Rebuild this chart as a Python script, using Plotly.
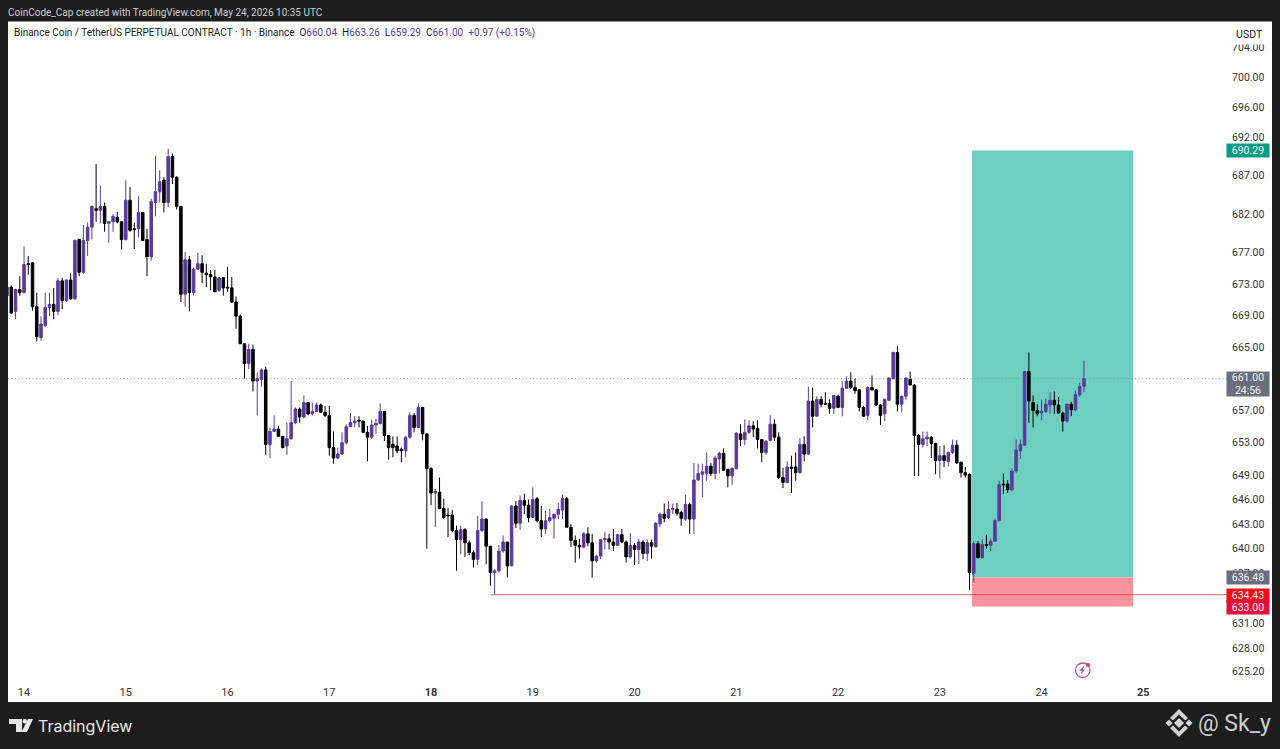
import math
import pandas as pd
import plotly.graph_objects as go

W, H = 1280, 749
L, R, T, B = 8, 1227, 22, 681

opens = [
671.5,672.6,669.5,672.3,671.9,675.6,675.7,670.1,666.2,667.7,
670.0,670.4,669.5,673.4,670.9,673.5,671.1,678.7,674.5,678.6,
680.3,682.7,682.5,683.0,680.8,681.0,681.6,681.0,678.7,683.8,
680.1,680.1,682.2,678.7,676.5,683.5,684.9,686.4,683.5,689.5,
686.8,683.0,671.7,676.1,671.9,674.9,675.6,674.4,674.2,673.9,
672.2,673.8,672.6,672.5,670.7,668.9,665.4,662.9,664.7,660.7,
660.9,662.1,652.8,654.4,654.7,653.8,652.6,653.5,655.5,657.2,
656.2,658.0,656.6,656.9,657.7,656.8,656.4,652.4,651.1,651.6,
653.0,655.0,655.5,655.8,655.7,654.3,653.7,655.2,655.4,656.9,
653.9,652.8,652.6,652.2,652.0,653.7,656.4,654.9,657.4,654.1,
649.8,646.8,646.9,644.9,644.1,644.1,642.2,641.1,642.3,640.7,
639.5,638.7,642.2,643.6,640.3,637.1,637.3,639.7,640.8,637.9,
645.2,643.1,645.9,645.3,643.8,646.1,643.4,642.4,643.4,643.7,
644.2,644.7,646.1,642.6,641.0,640.4,640.2,641.8,640.7,638.5,
639.1,641.1,641.2,640.8,640.4,641.7,640.8,639.0,640.4,639.9,
640.8,639.4,640.7,640.2,643.0,644.2,643.8,644.8,644.8,644.4,
643.6,645.4,643.6,648.4,649.1,649.2,650.1,649.2,651.0,651.7,
649.7,648.9,649.8,654.1,653.4,654.3,655.1,654.8,653.4,651.8,
653.3,655.3,653.7,648.7,648.1,650.0,650.0,649.3,652.8,651.6,
658.2,656.3,658.4,657.9,657.9,657.3,658.8,657.4,659.8,660.7,
659.9,659.6,657.4,656.4,659.9,659.6,657.7,656.6,658.3,661.0,
664.3,657.8,658.8,660.9,660.2,653.9,652.8,653.5,653.7,652.9,
650.8,651.4,650.7,651.8,652.7,650.6,649.3,649.1,637.0,640.6,
638.9,640.5,640.4,640.9,643.4,647.9,647.9,647.2,649.5,652.0,
652.7,661.9,658.0,657.0,656.7,656.9,657.7,658.3,657.7,656.7,
655.7,657.8,657.1,659.0,660.04]
highs = [
672.8,672.8,672.4,674.0,677.8,676.6,675.8,671.9,668.9,671.9,
671.9,672.5,673.8,673.8,673.6,674.4,678.7,678.8,680.6,680.9,
683.1,688.5,685.7,683.5,681.0,682.0,682.3,681.0,686.4,685.5,
680.9,684.3,682.2,680.1,684.0,689.6,687.7,686.8,690.5,689.9,
686.9,683.0,677.1,676.6,675.1,677.0,676.7,675.6,674.8,674.8,
673.9,673.9,675.2,673.9,671.4,669.1,665.4,665.4,665.3,661.8,
662.3,662.5,654.9,656.4,655.1,653.8,655.5,660.7,657.4,657.4,
658.9,658.1,658.0,658.0,657.9,657.6,657.6,654.4,652.4,654.3,
655.3,656.7,656.3,656.3,655.7,655.1,655.9,656.0,657.9,656.9,
653.9,653.8,653.8,652.4,653.8,656.8,656.7,657.9,657.4,654.2,
650.0,647.3,648.7,646.1,645.0,644.7,642.8,642.8,642.5,641.0,
639.8,644.0,645.8,643.7,640.3,637.5,640.4,641.6,640.8,645.3,
645.8,646.5,646.7,646.0,647.5,646.3,645.2,644.6,644.8,644.2,
645.6,646.6,646.3,643.0,641.6,641.2,642.0,642.6,641.8,639.2,
641.2,642.0,641.8,642.4,641.8,642.4,641.0,641.9,640.7,641.2,
641.0,641.1,641.1,643.2,644.4,645.5,645.8,645.5,645.6,644.6,
646.6,645.6,650.5,650.4,650.4,651.8,650.5,651.4,651.9,652.3,
649.8,650.0,654.3,655.3,655.9,655.8,655.7,655.8,653.5,653.3,
656.4,655.9,654.3,649.9,650.7,651.4,651.8,653.6,653.8,660.0,
659.9,658.8,658.8,659.3,658.4,659.0,659.0,660.7,661.3,661.8,
661.0,659.7,657.6,660.0,661.4,659.7,657.8,658.5,661.1,664.4,
665.1,658.8,661.1,661.9,660.3,654.1,654.4,654.4,653.8,653.0,
652.6,652.7,651.9,653.4,653.3,650.6,650.0,649.2,640.9,640.9,
641.1,641.7,641.2,643.7,648.3,649.2,648.4,649.8,653.4,653.4,
661.9,664.3,658.9,657.8,658.4,658.5,659.3,659.4,658.7,656.8,
657.9,658.1,659.5,660.5,663.26]
lows = [
671.4,669.2,668.5,671.5,671.8,674.2,669.6,665.7,665.8,667.5,
668.9,668.5,669.0,669.8,670.7,671.0,671.0,674.0,674.3,676.6,
678.7,681.0,680.8,679.7,678.3,679.7,680.8,677.4,678.6,679.7,
677.5,679.0,678.6,674.0,676.0,681.7,683.5,682.2,682.9,685.9,
682.6,670.7,670.1,669.5,671.5,674.8,673.1,672.6,672.2,672.0,
672.0,671.5,672.0,670.6,667.3,665.4,661.0,662.2,659.4,656.4,
660.0,651.5,651.1,654.4,653.8,652.3,651.5,653.4,655.3,655.5,
656.0,656.4,656.4,656.8,656.7,656.2,651.4,650.4,651.0,651.5,
652.8,655.0,654.9,654.9,654.2,650.7,653.5,654.1,655.3,653.2,
650.9,651.2,651.7,650.6,651.2,653.5,654.3,654.8,653.3,640.0,
645.3,642.6,644.8,643.6,641.4,642.0,637.3,639.3,639.0,639.2,
637.7,638.0,642.0,638.1,635.5,634.5,637.1,639.5,636.5,637.9,
642.5,642.3,644.2,643.2,643.8,643.2,641.4,641.8,643.2,641.2,
643.6,643.6,642.6,640.2,638.3,638.8,640.0,640.3,636.5,638.3,
638.7,639.9,639.9,639.7,640.3,640.7,638.3,638.8,638.0,638.1,
638.7,638.5,638.8,640.2,642.6,643.2,643.6,644.2,644.0,642.8,
643.4,641.8,641.8,648.3,646.3,648.3,648.9,648.5,649.2,649.6,
647.5,647.8,649.7,652.6,652.7,654.1,653.7,652.3,650.6,651.5,
653.2,653.2,648.5,647.4,648.0,646.8,648.3,649.2,650.7,651.5,
654.9,656.3,657.4,657.7,656.6,656.6,657.3,656.3,659.7,659.7,
659.1,656.9,656.2,655.8,659.5,657.6,655.2,655.7,658.2,660.9,
656.9,656.8,658.3,660.2,648.9,648.9,652.4,652.6,651.1,649.1,
648.6,650.0,650.1,651.6,650.4,648.7,648.7,635.0,635.9,638.8,
638.8,640.0,639.7,640.8,643.4,646.7,646.8,647.0,649.3,651.0,
652.6,655.5,654.9,656.3,655.8,656.7,656.6,656.6,656.6,654.4,
655.5,656.3,656.9,658.7,659.29]
closes = [
672.6,669.3,672.3,671.9,675.5,675.5,670.1,666.3,667.9,670.0,
670.4,669.5,673.4,670.9,673.5,671.1,678.6,674.5,678.6,680.3,
683.0,682.5,683.0,680.8,681.0,681.7,681.0,678.7,683.8,679.9,
680.0,682.2,678.6,676.5,683.6,684.9,686.2,683.5,689.5,686.8,
683.0,671.7,676.1,671.9,674.9,675.6,674.5,674.2,673.9,672.0,
673.8,672.5,672.5,670.7,668.9,665.4,662.9,664.7,660.7,661.0,
662.1,652.8,654.4,654.7,653.8,652.4,653.5,655.5,657.2,656.2,
658.0,656.6,656.9,657.7,656.8,656.4,652.4,651.1,651.6,653.0,
655.0,655.5,655.7,655.7,654.3,653.7,655.2,655.4,656.9,653.9,
652.4,652.4,652.0,652.0,653.7,656.4,654.9,657.4,654.1,649.8,
646.8,647.0,644.9,643.8,644.0,642.2,641.1,642.3,640.7,639.5,
638.7,642.2,643.6,640.3,637.1,637.3,639.7,640.8,637.9,645.2,
643.1,645.9,645.3,643.8,646.0,643.4,642.4,643.4,643.8,644.2,
644.8,646.1,642.6,641.0,640.4,640.2,641.8,640.7,638.5,639.1,
641.1,641.2,640.8,640.4,641.7,640.8,639.0,640.4,639.9,640.8,
639.4,640.7,640.3,643.1,644.2,643.7,644.8,644.9,644.3,643.7,
645.4,643.6,648.4,649.2,649.4,650.1,649.2,651.1,651.7,649.6,
648.9,649.8,654.2,653.4,654.3,655.1,654.7,653.4,651.8,653.2,
655.3,653.7,648.7,648.1,650.0,649.8,649.3,652.8,651.6,658.2,
656.3,658.4,657.8,657.8,657.3,658.9,657.4,659.8,660.7,659.9,
659.5,657.4,656.3,659.9,659.6,657.7,656.4,658.4,661.1,664.3,
657.8,658.8,661.1,660.2,653.9,652.8,653.5,653.7,652.9,650.8,
651.4,650.8,651.8,652.7,650.5,649.3,649.0,637.1,640.6,638.9,
640.5,640.4,640.9,643.4,647.8,647.8,647.2,649.5,652.1,652.8,
661.9,658.2,657.0,656.6,656.9,657.8,658.3,657.7,656.7,655.7,
657.8,657.1,659.0,660.0,661.00]

times = pd.date_range("2026-05-13 20:00", periods=len(opens), freq="h")

day_ticks = ["2026-05-%02d" % d for d in range(14, 26)]
day_labels = ["14", "15", "16", "17", "<b>18</b>", "19", "20", "21", "22", "23", "24", "<b>25</b>"]
price_ticks = [704, 700, 696, 692, 687, 682, 677, 673, 669, 665, 657, 653, 649, 646, 643, 640, 637, 631, 628, 625.2]
price_labels = ["%.2f" % p for p in price_ticks]

UP, DOWN = "#5a3a9c", "#000000"
DARK = "#1d1d1d"
FONT = "Roboto, Inter, sans-serif"
TP_PRICE, ENTRY_PRICE, SL_PRICE, LEVEL_PRICE, LAST_PRICE = 690.29, 636.48, 633.00, 634.43, 661.00
X_START, X_END = "2026-05-13 20:13", "2026-05-25 19:44"
ZONE_START, ZONE_END = "2026-05-23 07:35", "2026-05-24 21:36"


def px(x):
    return (x - L) / (R - L)


def py(y):
    return 1 - (y - T) / (B - T)


def path(points):
    return "M " + " L ".join("%.5f %.5f" % (px(a), py(b)) for a, b in points) + " Z"


def poly(points, color):
    return dict(type="path", xref="paper", yref="paper", path=path(points),
                fillcolor=color, line=dict(width=0), layer="above")


shapes = [
    dict(type="rect", xref="paper", yref="paper", x0=px(8), x1=px(1272), y0=py(702), y1=py(21.5),
         fillcolor="#ffffff", line=dict(width=0), layer="below"),
    dict(type="rect", xref="x", yref="y", x0=ZONE_START, x1=ZONE_END,
         y0=ENTRY_PRICE, y1=TP_PRICE, fillcolor="#6ecfc0", line=dict(width=0), layer="below"),
    dict(type="rect", xref="x", yref="y", x0=ZONE_START, x1=ZONE_END,
         y0=SL_PRICE, y1=ENTRY_PRICE, fillcolor="#f9939f", line=dict(width=0), layer="below"),
    dict(type="line", xref="x", yref="y", x0="2026-05-18 14:00", x1=X_END,
         y0=LEVEL_PRICE, y1=LEVEL_PRICE, line=dict(color="rgba(230,50,65,0.6)", width=1.3), layer="below"),
    dict(type="line", xref="x", yref="y", x0=X_START, x1=X_END, y0=LAST_PRICE, y1=LAST_PRICE,
         line=dict(color="#8d909a", width=1, dash="1px,2.5px"), layer="below"),
    poly([(9, 719), (22, 719), (22, 732), (16, 732), (16, 724), (9, 724)], "#e8e8e8"),
    poly([(28, 719), (33, 719), (27, 732), (21.5, 732)], "#e8e8e8"),
    dict(type="circle", xref="paper", yref="paper", x0=px(22.6), x1=px(27), y0=py(723.5), y1=py(719.1),
         fillcolor="#e8e8e8", line=dict(width=0), layer="above"),
    poly([(1179, 718), (1184, 723), (1179, 728), (1174, 723)], "#d2d2d2"),
    poly([(1169, 719.5), (1172.5, 723), (1169, 726.5), (1165.5, 723)], "#d2d2d2"),
    poly([(1189, 719.5), (1192.5, 723), (1189, 726.5), (1185.5, 723)], "#d2d2d2"),
    poly([(1179, 709), (1188, 718), (1185, 720.5), (1179, 714.5), (1173, 720.5), (1170, 718)], "#d2d2d2"),
    poly([(1179, 737), (1188, 728), (1185, 725.5), (1179, 731.5), (1173, 725.5), (1170, 728)], "#d2d2d2"),
    dict(type="circle", xref="paper", yref="paper", x0=px(1075.5), x1=px(1090), y0=py(677.5), y1=py(663),
         fillcolor="rgba(0,0,0,0)", line=dict(color="#a651b5", width=1.3), layer="above"),
    poly([(1084.5, 665.5), (1079, 671), (1082, 671), (1080, 675), (1085.5, 669.5), (1082.5, 669.5)], "#a651b5"),
    dict(type="circle", xref="paper", yref="paper", x0=px(1086), x1=px(1090), y0=py(667), y1=py(663),
         fillcolor="#e23b4e", line=dict(width=0), layer="above"),
]


def badge(text, y_value, bg, color="#f2f2f2", height=13, font_size=10.5):
    return dict(xref="paper", x=1, xanchor="left", xshift=-1, yref="y", y=math.log10(y_value), yanchor="middle",
                text=text, showarrow=False, bgcolor=bg, width=42, height=height, align="center",
                borderpad=0, font=dict(family=FONT, size=font_size, color=color))


def label(x, y, text, size, color, xanchor="left", family=FONT):
    return dict(xref="paper", yref="paper", x=px(x), y=py(y), xanchor=xanchor, yanchor="middle",
                text=text, showarrow=False, font=dict(family=family, size=size, color=color))


V = '<span style="color:%s">%%s</span>' % UP
legend = ("Binance Coin / TetherUS PERPETUAL CONTRACT · 1h · Binance  O" + V % "660.04" +
          "  H" + V % "663.26" + "  L" + V % "659.29" + "  C" + V % "661.00" +
          "  " + V % "+0.97 (+0.15%)")

annotations = [
    label(6, 12, "CoinCode_Cap created with TradingView.com, May 24, 2026 10:35 UTC", 10, "#cfcfcf"),
    label(12, 33, legend, 10, "#1a1a1a"),
    label(36, 725.5, "TradingView", 16, "#e8e8e8", family="Inter, Roboto, sans-serif"),
    label(1196, 723, "@ Sk_y", 23, "#cfcfcf"),
    badge("690.29", TP_PRICE, "#0c9c85"),
    badge("661.00<br>24:56", 660.3, "#6a6e7c", height=24),
    badge("636.48", ENTRY_PRICE, "#6a6e7c"),
    badge("634.43", 634.3, "#f20d16"),
    badge("633.00", 632.9, "#e3103f"),
    dict(xref="paper", x=1, xanchor="left", xshift=2, yref="paper", y=py(34), yanchor="middle",
         text="USDT", showarrow=False, bgcolor="#ffffff", width=39, height=20, borderpad=0,
         font=dict(family=FONT, size=10.5, color="#1a1a1a")),
]

fig = go.Figure(go.Candlestick(
    x=times, open=opens, high=highs, low=lows, close=closes,
    increasing=dict(line=dict(color=UP, width=1), fillcolor=UP),
    decreasing=dict(line=dict(color=DOWN, width=1), fillcolor=DOWN),
    whiskerwidth=0, hoverinfo="skip", showlegend=False,
))

fig.update_layout(
    width=W, height=H, autosize=False, boxgap=0.15,
    margin=dict(l=L, r=W - R, t=T, b=H - B, pad=0),
    paper_bgcolor=DARK, plot_bgcolor="#ffffff",
    font=dict(family=FONT, size=11, color="#333333"),
    showlegend=False, shapes=shapes, annotations=annotations,
    xaxis=dict(type="date", range=[X_START, X_END],
               tickmode="array", tickvals=day_ticks, ticktext=day_labels,
               showgrid=False, zeroline=False, showline=False, ticks="outside", ticklen=1,
               tickcolor="#ffffff", rangeslider=dict(visible=False),
               tickfont=dict(family=FONT, size=11, color="#333333")),
    yaxis=dict(type="log", side="right",
               range=[math.log10(624.1), math.log10(707.35)],
               tickmode="array", tickvals=price_ticks, ticktext=price_labels,
               showgrid=False, zeroline=False, showline=False, ticks="outside", ticklen=2,
               tickcolor="#ffffff",
               tickfont=dict(family=FONT, size=10.5, color="#333333")),
)

fig.write_html("out.html", config={"displayModeBar": False},
               post_script="document.body.style.margin='0';document.body.style.background='%s';" % DARK)
